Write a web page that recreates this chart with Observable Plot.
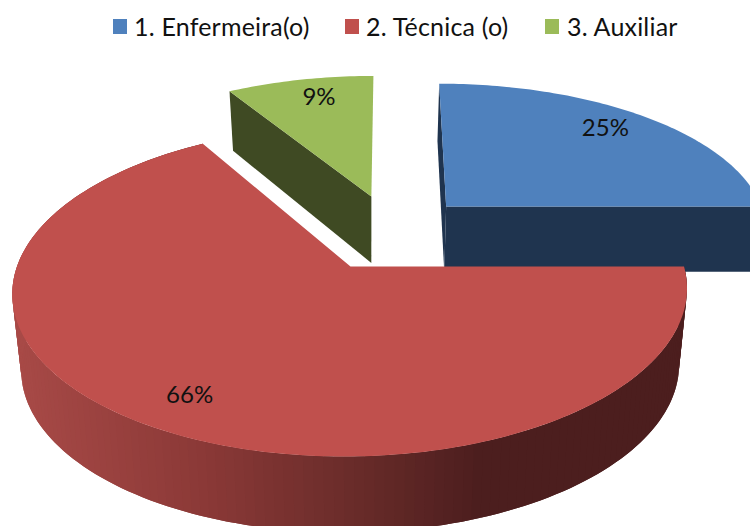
<!DOCTYPE html>
<html>
<head>
<meta charset="utf-8">
<script src="https://cdn.jsdelivr.net/npm/d3@7"></script>
<script src="https://cdn.jsdelivr.net/npm/@observablehq/plot@0.6"></script>
<style>
html,body{margin:0;padding:0;background:#fff;overflow:hidden}
#legend{position:relative;height:50px;font:25px Lato,sans-serif;letter-spacing:.2px;color:#111}
#legend span{position:absolute;top:12px;white-space:nowrap;line-height:28px}
#legend i{position:absolute;top:19px;width:14px;height:15px}
#chart svg{display:block}
</style>
</head>
<body>
<div id="legend"></div>
<div id="chart"></div>
<script>
// Data
const categories = ["1. Enfermeira(o)", "2. Técnica (o)", "3. Auxiliar"];
const shares = [25, 66.4, 8.6];
const percentLabels = ["25%", "66%", "9%"];
const colors = ["#4F81BD", "#C0504D", "#9BBB59"];
const wallColors = ["#1F344F", null, "#3F4A23"];
const legendSwatchX = [113, 345, 545];
const legendTextX = [134, 366, 567];

// Legend
const legendBox = document.getElementById("legend");
categories.forEach((c, i) => {
  const sw = document.createElement("i");
  sw.style.left = legendSwatchX[i] + "px";
  sw.style.background = colors[i];
  legendBox.appendChild(sw);
  const t = document.createElement("span");
  t.style.left = legendTextX[i] + "px";
  t.textContent = c;
  legendBox.appendChild(t);
});

// Perspective model of the pie plane
const cx = 350, cy = 266, a = 333.5, b = 161.5, k = 0.15, vx = 388;
const wallVx = 370, wallShrink = 0.975;
const explode = [{X: 0.297, Y: 0.3934, ry: 0.97, H: 69, depth: true},
                 {X: 0, Y: 0, ry: 1, H: 76, depth: false},
                 {X: 0.059, Y: 0.4635, ry: 0.97, H: 71, depth: true}];
const labelNudge = [-2, 1, 2];
const labelRadius = 0.825;

function project(X, Y) {
  const d = 1 + k * Y;
  return {x: (cx + a * X + vx * k * Y) / d, y: cy - b * Y / d, d};
}
function rimPoint(i, deg, f = 1) {
  const e = explode[i], t = deg * Math.PI / 180;
  return project(e.X + f * Math.sin(t), e.Y + f * e.ry * Math.cos(t));
}
function dropPoint(i, p) {
  const e = explode[i];
  return {x: wallVx + (p.x - wallVx) * wallShrink, y: p.y + (e.depth ? e.H / p.d : e.H)};
}

// Angles come from the shares
const total = d3.sum(shares);
let acc = 0;
const slices = shares.map((v, i) => {
  const start = acc / total * 360;
  acc += v;
  return {i, start, end: acc / total * 360};
});
const arcAngles = (s, step = 1) => {
  const out = d3.range(s.start, s.end, step);
  out.push(s.end);
  return out;
};

const redWallColor = d3.scaleLinear()
  .domain([12, 200, 350, 480, 750])
  .range(["#A84A47", "#8B3937", "#6A2C2A", "#4C1E1E", "#4C1E1E"])
  .clamp(true);

// Polygons
const polys = [];
let polyId = 0;
function addPoly(points, fill) {
  const id = polyId++;
  points.forEach(p => polys.push({id, x: p.x, y: p.y, fill}));
}
function apexPoint(i) { const e = explode[i]; return project(e.X, e.Y); }

function addFlatWall(i, deg, fill) {
  const p = rimPoint(i, deg), q = apexPoint(i);
  addPoly([q, p, dropPoint(i, p), dropPoint(i, q)], fill);
}
// Each strip reaches over the next one, so the later strip covers the seam.
function addRimWall(s, colorFn) {
  const angles = arcAngles(s, 1.5);
  for (let j = 0; j < angles.length - 1; j++) {
    const run = angles.slice(j, j + 3).map(d => rimPoint(s.i, d));
    const mid = (run[0].x + run[1].x) / 2;
    addPoly([...run, ...run.slice().reverse().map(p => dropPoint(s.i, p))], colorFn(mid));
  }
}
function addTopFace(s) {
  addPoly([apexPoint(s.i), ...arcAngles(s).map(d => rimPoint(s.i, d))], colors[s.i]);
}

const [blue, red, green] = slices;
// back to front
addFlatWall(0, blue.start, wallColors[0]);
addFlatWall(0, blue.end, wallColors[0]);
addTopFace(blue);
addFlatWall(2, green.start, wallColors[2]);
addTopFace(green);
addRimWall(red, redWallColor);
addTopFace(red);

const labels = slices.map(s => {
  const mid = (s.start + s.end) / 2 + labelNudge[s.i];
  const p = rimPoint(s.i, mid, labelRadius);
  return {x: p.x, y: p.y, text: percentLabels[s.i]};
});

const plot = Plot.plot({
  width: 750,
  height: 476,
  margin: 0,
  x: {domain: [0, 750], range: [0, 750], axis: null},
  y: {domain: [50, 526], range: [0, 476], axis: null},
  color: {type: "identity"},
  marks: [
    Plot.line(polys, {
      x: "x", y: "y", z: "id", fill: "fill", stroke: "none",
      curve: "linear", clip: true
    }),
    Plot.text(labels, {
      x: "x", y: "y", text: "text", fontSize: 24,
      fontFamily: "Lato, sans-serif", fill: "#111", textAnchor: "middle"
    })
  ]
});
document.getElementById("chart").appendChild(plot);
</script>
</body>
</html>
